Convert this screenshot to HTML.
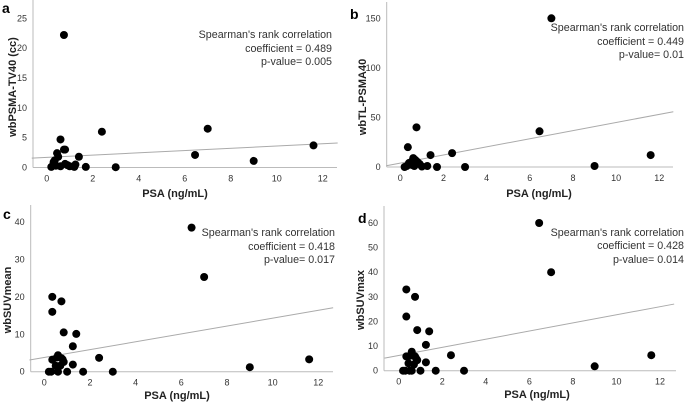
<!DOCTYPE html>
<html><head><meta charset="utf-8"><style>
html,body{margin:0;padding:0;background:#fff;}
svg{display:block;font-family:"Liberation Sans",Arial,sans-serif;}
</style></head><body>
<svg id="fig" width="685" height="403" viewBox="0 0 685 403" xmlns="http://www.w3.org/2000/svg"></svg>
<script>
// Panel data arrays
const aX=[0.75,0.6,0.75,0.8,0.45,0.5,1.4,2.4,6.45,7.0,9.0,11.6,0.3,0.35,0.2,0.4,0.8,0.9,1.0,1.25,0.6,1.7,3.0,1.2];
const aY=[22.2,4.7,3.0,3.0,2.4,1.8,1.8,6.0,2.1,6.5,1.1,3.7,0.9,1.2,0.1,0.3,0.6,0.4,0.2,0.5,0.2,0.1,0.05,0.1];
const bX=[7.0,0.75,0.35,6.45,1.4,2.4,11.6,9.0,0.6,0.7,0.8,0.5,0.4,0.9,1.25,1.7,3.0,0.2,0.3,0.55,0.65,1.0];
const bY=[150,40,20,36,12,14,12,1,9,7,5,5,4,3,1,0,0,0,1,2,1,0.5];
const cX=[6.45,7.0,0.35,0.75,0.35,0.85,1.4,1.25,2.4,9.0,11.6,0.35,0.55,0.6,0.75,0.8,0.85,0.5,0.7,1.25,0.2,0.3,0.6,1.0,1.7,3.0];
const cY=[38.5,25.3,20,18.8,16,10.5,10.1,6.8,3.7,1.2,3.3,3.2,3.8,4.4,3.6,3.3,2.6,1.6,1.6,1.9,0,0,0,0,0,0];
const dX=[6.45,7.0,0.35,0.75,0.35,0.85,1.4,1.25,2.4,11.6,9.0,0.6,0.35,0.5,0.75,0.8,0.85,0.45,0.7,1.25,0.2,0.3,0.5,0.6,1.0,1.7,3.0];
const dY=[60,40,33,30,22,16.5,16,10.5,6.3,6.3,1.8,7.7,5.8,6,5.8,5,4.3,3,2.5,3.4,0,0,0,0,0,0,0];
const xTicks=[0,2,4,6,8,10,12];
const aTicks=[0,5,10,15,20,25];
const bTicks=[0,50,100,150];
const cTicks=[0,10,20,30,40];
const dTicks=[0,10,20,30,40,50,60];
const fitA=[1.7,0.19], fitB=[3.9,4.1], fitC=[3.8,1.05], fitD=[6.2,1.65];
const yTitles=["wbPSMA-TV40 (cc)","wbTL-PSMA40","wbSUVmean","wbSUVmax"];
const coefs=["coefficient = 0.489","coefficient = 0.449","coefficient = 0.418","coefficient = 0.428"];
const pvals=["p-value= 0.005","p-value= 0.01","p-value= 0.017","p-value= 0.014"];

const NS="http://www.w3.org/2000/svg";
const svg=document.getElementById('fig');
function mk(tag,attrs,parent,text){const e=document.createElementNS(NS,tag);for(const k in attrs)e.setAttribute(k,attrs[k]);if(text!==undefined)e.textContent=text;parent.appendChild(e);return e;}

const panels=[
 {id:'a',X:aX,Y:aY,ticks:aTicks,fit:fitA,x0:46.7,x12:322.7,yAxisX:33,xAxisY:167.5,y0:167.5,yTop:18.3,yTopV:25,right:337,top:0,letter:[2,13],titleX:12,titleY:87,psaX:175,psaY:197,annX:332,annY:[38,52,65]},
 {id:'b',X:bX,Y:bY,ticks:bTicks,fit:fitB,x0:400.3,x12:659.3,yAxisX:386.7,xAxisY:167,y0:167,yTop:18.3,yTopV:150,right:673,top:2,letter:[350,19],titleX:362,titleY:97,psaX:539,psaY:197,annX:684,annY:[31,45,58]},
 {id:'c',X:cX,Y:cY,ticks:cTicks,fit:fitC,x0:44.3,x12:318.3,yAxisX:30.7,xAxisY:371.7,y0:371.7,yTop:222,yTopV:40,right:333,top:205,letter:[3,219],titleX:7,titleY:300,psaX:177,psaY:399,annX:335,annY:[236,250,263]},
 {id:'d',X:dX,Y:dY,ticks:dTicks,fit:fitD,x0:398.7,x12:660,yAxisX:384,xAxisY:370.7,y0:370.7,yTop:223,yTopV:60,right:676,top:206,letter:[358,223],titleX:360,titleY:300,psaX:537,psaY:398,annX:684,annY:[236,249,263]}
];

panels.forEach((p,i)=>{
 const g=mk('g',{},svg);
 
 
 const sx=v=>p.x0+(p.x12-p.x0)*v/12;
 const sy=v=>p.y0-(p.y0-p.yTop)*v/p.yTopV;
 const xl=mk('line',{x1:p.yAxisX,y1:p.xAxisY,x2:p.right,y2:p.xAxisY,stroke:'#bbb','stroke-width':1},g);
 
 
 const yl=mk('line',{x1:p.yAxisX,y1:p.top,x2:p.yAxisX,y2:p.xAxisY,stroke:'#bbb','stroke-width':1},g);
 
 
 xTicks.forEach(t=>{
  const e=mk('text',{x:sx(t),y:p.xAxisY+14,'text-anchor':'middle','font-size':9,fill:'#333'},g,String(t));
  
  
 });
 p.ticks.forEach(t=>{
  const e=mk('text',{x:p.yAxisX-6,y:sy(t)+3,'text-anchor':'end','font-size':9,fill:'#333'},g,String(t));
  
  
 });
 const xa=-0.65,xb=12.65;
 const fl=mk('line',{x1:sx(xa),y1:sy(p.fit[0]+p.fit[1]*xa),x2:sx(xb),y2:sy(p.fit[0]+p.fit[1]*xb),stroke:'#aaa','stroke-width':1},g);
 
 
 p.X.forEach((x,k)=>{
  const c=mk('circle',{cx:sx(x),cy:sy(p.Y[k]),r:4,fill:'#000'},g);
  
  
 });
 const L=mk('text',{x:p.letter[0],y:p.letter[1],'font-size':14,'font-weight':'bold',fill:'#000'},g,p.id);
 
 
 const yt=mk('text',{x:0,y:0,transform:`translate(${p.titleX+4},${p.titleY}) rotate(-90)`,'text-anchor':'middle','font-size':11,'font-weight':'bold',fill:'#222'},g,yTitles[i]);
 
 
 const xt=mk('text',{x:p.psaX,y:p.psaY,'text-anchor':'middle','font-size':11,'font-weight':'bold',fill:'#222'},g,'PSA (ng/mL)');
 
 
 const lines=["Spearman's rank correlation",coefs[i],pvals[i]];
 lines.forEach((s,k)=>{
  const e=mk('text',{x:p.annX,y:p.annY[k],'text-anchor':'end','font-size':10.7,fill:'#333'},g,s);
  
  
 });
});
</script>
</body></html>
